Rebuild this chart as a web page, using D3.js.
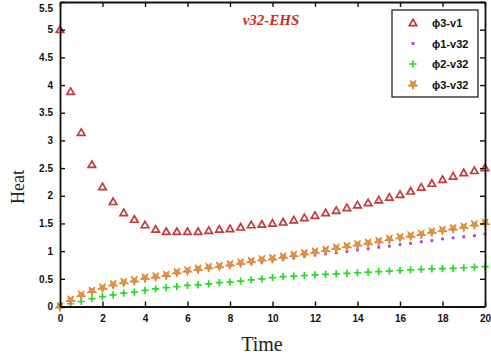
<!DOCTYPE html>
<html>
<head>
<meta charset="utf-8">
<script src="https://cdn.jsdelivr.net/npm/d3@7/dist/d3.min.js"></script>
<style>
  body { margin: 0; background: #fff; }
  svg { display: block; }
</style>
</head>
<body>
<svg id="chart" width="491" height="356"></svg>
<script>
// Time samples (step 0.5 from 0 to 20)
const times = d3.range(0, 20.001, 0.5);

// Heat series
const phi3_v1 = [5.00, 3.88, 3.14, 2.56, 2.16, 1.89, 1.69, 1.57, 1.47, 1.39, 1.35,
  1.35, 1.35, 1.35, 1.37, 1.39, 1.40, 1.43, 1.47, 1.48, 1.50,
  1.52, 1.56, 1.60, 1.64, 1.69, 1.73, 1.78, 1.83, 1.87, 1.92,
  1.97, 2.02, 2.08, 2.15, 2.22, 2.29, 2.35, 2.41, 2.45, 2.50];
const phi1_v32 = [0.00, 0.11, 0.20, 0.27, 0.33, 0.39, 0.43, 0.46, 0.50, 0.53, 0.56,
  0.60, 0.63, 0.66, 0.69, 0.71, 0.74, 0.76, 0.78, 0.80, 0.83,
  0.86, 0.88, 0.91, 0.93, 0.95, 0.97, 0.99, 1.02, 1.04, 1.07,
  1.09, 1.12, 1.14, 1.17, 1.19, 1.22, 1.24, 1.26, 1.28, 1.31];
const phi2_v32 = [0.00, 0.05, 0.09, 0.14, 0.18, 0.21, 0.24, 0.26, 0.29, 0.32, 0.34,
  0.36, 0.38, 0.39, 0.41, 0.43, 0.44, 0.46, 0.48, 0.50, 0.52,
  0.54, 0.55, 0.56, 0.57, 0.58, 0.59, 0.60, 0.61, 0.62, 0.63,
  0.64, 0.65, 0.66, 0.67, 0.68, 0.685, 0.69, 0.70, 0.71, 0.72];
const phi3_v32 = [0.00, 0.12, 0.21, 0.28, 0.34, 0.40, 0.44, 0.47, 0.52, 0.54, 0.57,
  0.62, 0.65, 0.68, 0.71, 0.73, 0.76, 0.79, 0.82, 0.85, 0.87,
  0.90, 0.93, 0.96, 0.99, 1.02, 1.06, 1.09, 1.12, 1.15, 1.18,
  1.22, 1.25, 1.28, 1.31, 1.35, 1.38, 1.41, 1.44, 1.48, 1.51];

const seriesNames = ["ϕ3-v1", "ϕ1-v32", "ϕ2-v32", "ϕ3-v32"];
const xTicks = [0, 2, 4, 6, 8, 10, 12, 14, 16, 18, 20];
const yTicks = [0, 0.5, 1, 1.5, 2, 2.5, 3, 3.5, 4, 4.5, 5, 5.5];
const titleText = "v32-EHS";
const xLabel = "Time";
const yLabel = "Heat";

const svg = d3.select("#chart");
const plotLeft = 60, plotRight = 485, plotTop = 2, plotBottom = 306.5;

const x = d3.scaleLinear().domain([0, 20]).range([plotLeft, plotRight]);
const y = d3.scaleLinear().domain([0, 5.5]).range([plotBottom, plotTop]);

const styles = [
  { data: phi3_v1, kind: "triangle", color: "#c43a3a" },
  { data: phi1_v32, kind: "dot", color: "#b040e0" },
  { data: phi2_v32, kind: "plus", color: "#22dd22" },
  { data: phi3_v32, kind: "star", color: "#e8903a" }
];

function drawMarker(g, kind, color) {
  if (kind === "triangle") {
    g.append("path").attr("d", d3.symbol(d3.symbolTriangle, 24)())
      .attr("transform", "translate(0,0.5)")
      .attr("fill", "none").attr("stroke", color).attr("stroke-width", 1.7);
  } else if (kind === "dot") {
    g.append("rect").attr("x", -1.4).attr("y", -1.4).attr("width", 2.8).attr("height", 2.8)
      .attr("fill", color);
  } else if (kind === "plus") {
    g.append("path").attr("d", "M-3.6,0H3.6M0,-3.6V3.6")
      .attr("stroke", color).attr("stroke-width", 1.7);
  } else if (kind === "star") {
    g.append("path").attr("d", d3.symbol(d3.symbolStar, 28)())
      .attr("transform", "rotate(180)")
      .attr("fill", color).attr("stroke", "#d88a3a").attr("stroke-width", 1);
  }
}

// Data markers
const plot = svg.append("g");
styles.forEach(s => {
  plot.append("g").selectAll("g")
    .data(times.map((t, i) => [t, s.data[i]]))
    .join("g")
    .attr("transform", d => `translate(${x(d[0])},${y(d[1])})`)
    .each(function () { drawMarker(d3.select(this), s.kind, s.color); });
});

// Axes with inward ticks on all four sides
const tickFont = "bold 10px 'Liberation Sans', Arial, sans-serif";
const gx = svg.append("g").attr("transform", `translate(0,${plotBottom})`)
  .call(d3.axisBottom(x).tickValues(xTicks).tickSizeInner(-5).tickSizeOuter(0).tickPadding(8)
    .tickFormat(d3.format("d")));
const gy = svg.append("g").attr("transform", `translate(${plotLeft},0)`)
  .call(d3.axisLeft(y).tickValues(yTicks).tickSizeInner(-5).tickSizeOuter(0).tickPadding(7)
    .tickFormat(d => String(d)));
const gt = svg.append("g").attr("transform", `translate(0,${plotTop})`)
  .call(d3.axisTop(x).tickValues(xTicks).tickSizeInner(-5).tickSizeOuter(0).tickFormat(""));
const gr = svg.append("g").attr("transform", `translate(${plotRight},0)`)
  .call(d3.axisRight(y).tickValues(yTicks).tickSizeInner(-5).tickSizeOuter(0).tickFormat(""));

[gx, gy, gt, gr].forEach(g => {
  g.select(".domain").attr("stroke", "#111").attr("stroke-width", 1.8);
  g.selectAll(".tick line").attr("stroke", "#111").attr("stroke-width", 1.4);
  g.selectAll(".tick text").style("font", tickFont).attr("fill", "#111");
});
// keep the topmost label inside the page
gy.selectAll(".tick text").filter(d => d === 5.5).attr("dy", "0.9em");

// Title inside the plot
svg.append("text").attr("x", 271).attr("y", 25).attr("text-anchor", "middle")
  .style("font", "italic bold 15px 'Liberation Serif', 'Times New Roman', serif")
  .attr("fill", "#d42a1e").text(titleText);

// Legend
const leg = svg.append("g");
leg.append("rect").attr("x", 392).attr("y", 10).attr("width", 86).attr("height", 87)
  .attr("fill", "#fff").attr("stroke", "#111").attr("stroke-width", 1.2);
seriesNames.forEach((name, i) => {
  const yy = 23 + i * 20.5;
  const m = leg.append("g").attr("transform", `translate(413,${yy})`);
  drawMarker(m, styles[i].kind, styles[i].color);
  leg.append("text").attr("x", 432).attr("y", yy + 4)
    .style("font", "bold 11px 'Liberation Sans', Arial, sans-serif")
    .attr("fill", "#111").text(name);
});

// Axis titles
svg.append("text").attr("x", 262).attr("y", 351).attr("text-anchor", "middle")
  .style("font", "20px 'Liberation Serif', 'Times New Roman', serif").attr("fill", "#222")
  .text(xLabel);
svg.append("text").attr("transform", "translate(24,187) rotate(-90)").attr("text-anchor", "middle")
  .style("font", "18px 'Liberation Serif', 'Times New Roman', serif").attr("fill", "#222")
  .text(yLabel);
</script>
</body>
</html>
